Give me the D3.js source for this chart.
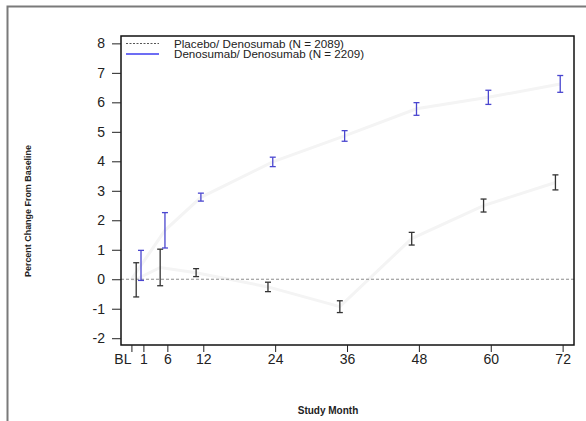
<!DOCTYPE html>
<html>
<head>
<meta charset="utf-8">
<script src="https://cdn.jsdelivr.net/npm/d3@7"></script>
<style>
  body { margin: 0; background: #fff; }
  svg { display: block; font-family: "Liberation Sans", Arial, sans-serif; }
</style>
</head>
<body>
<div id="chart"></div>
<script>
// visits: axis position of each visit (month 1 sits at position 2 on the original axis)
var visitAt = [2, 6, 12, 24, 36, 48, 60, 72];
var xTickAt = [0, 2, 6, 12, 24, 36, 48, 60, 72];
var xTickLabels = ['BL', '1', '6', '12', '24', '36', '48', '60', '72'];
var yTicks = [-2, -1, 0, 1, 2, 3, 4, 5, 6, 7, 8];

var placeboMean = [0, 0.4, 0.22, -0.26, -0.93, 1.38, 2.5, 3.28];
var placeboLo = [-0.6, -0.22, 0.09, -0.42, -1.13, 1.16, 2.28, 3.03];
var placeboHi = [0.56, 1.02, 0.36, -0.1, -0.73, 1.59, 2.72, 3.54];

var denoMean = [0.47, 1.66, 2.78, 3.98, 4.86, 5.78, 6.17, 6.62];
var denoLo = [-0.04, 1.06, 2.65, 3.82, 4.68, 5.56, 5.93, 6.34];
var denoHi = [0.98, 2.26, 2.92, 4.14, 5.04, 5.99, 6.41, 6.91];

var seriesNames = ['Placebo/ Denosumab (N = 2089)', 'Denosumab/ Denosumab (N = 2209)'];

var W = 586, H = 421;
var frame = { left: 121, right: 574, top: 36, bottom: 345 };

var svg = d3.select('#chart').append('svg')
  .attr('width', W).attr('height', H);

// outer grey border (runs off the right / bottom edges)
svg.append('rect')
  .attr('x', 7.5).attr('y', 6.5)
  .attr('width', 620).attr('height', 440)
  .attr('fill', 'none').attr('stroke', '#7a7a7a').attr('stroke-width', 2);

var x = d3.scaleLinear().domain([-1.74, 73.9]).range([frame.left, frame.right]);
var y = d3.scaleLinear().domain([-2.23, 8.25]).range([frame.bottom, frame.top]);

var series = [
  { mean: placeboMean, lo: placeboLo, hi: placeboHi, shift: -1.2, color: '#333' },
  { mean: denoMean, lo: denoLo, hi: denoHi, shift: -0.4, color: '#4a46cf' }
];

// very faint connecting lines from baseline through the means
var line = d3.line().x(function (d) { return x(d[0]); }).y(function (d) { return y(d[1]); });
series.forEach(function (s) {
  var pts = [[0, 0]].concat(visitAt.map(function (v, i) { return [v + s.shift, s.mean[i]]; }));
  svg.append('path')
    .attr('d', line(pts))
    .attr('fill', 'none')
    .attr('stroke', '#f4f4f4')
    .attr('stroke-width', 3);
});

// zero reference line
svg.append('line')
  .attr('x1', frame.left).attr('x2', frame.right)
  .attr('y1', y(0)).attr('y2', y(0))
  .attr('stroke', '#8c8c8c').attr('stroke-width', 1)
  .attr('stroke-dasharray', '3,2');

// error bars
series.forEach(function (s) {
  var g = svg.append('g').attr('stroke', s.color).attr('stroke-width', 1.3);
  visitAt.forEach(function (v, i) {
    var cx = x(v + s.shift);
    g.append('line').attr('x1', cx).attr('x2', cx).attr('y1', y(s.lo[i])).attr('y2', y(s.hi[i]));
    g.append('line').attr('x1', cx - 3).attr('x2', cx + 3).attr('y1', y(s.lo[i])).attr('y2', y(s.lo[i]));
    g.append('line').attr('x1', cx - 3).attr('x2', cx + 3).attr('y1', y(s.hi[i])).attr('y2', y(s.hi[i]));
  });
});

// frame
svg.append('rect')
  .attr('x', frame.left).attr('y', frame.top)
  .attr('width', frame.right - frame.left).attr('height', frame.bottom - frame.top)
  .attr('fill', 'none').attr('stroke', '#111').attr('stroke-width', 1.5);

// y axis
var yAxis = svg.append('g')
  .attr('transform', 'translate(' + (frame.left - 9) + ',0)')
  .call(d3.axisLeft(y).tickValues(yTicks).tickSize(-9).tickPadding(7)
    .tickFormat(function (d) { return String(d); }));
yAxis.select('.domain').remove();
yAxis.selectAll('line').attr('stroke', '#222');
yAxis.selectAll('text').attr('font-size', 14).attr('fill', '#222')
  .attr('font-family', '"Liberation Sans", Arial, sans-serif');

// x axis
var xAxis = svg.append('g')
  .attr('transform', 'translate(0,' + frame.bottom + ')')
  .call(d3.axisBottom(x).tickValues(xTickAt).tickSize(7).tickPadding(2)
    .tickFormat(function (d, i) { return xTickLabels[i]; }));
xAxis.select('.domain').remove();
xAxis.selectAll('line').attr('stroke', '#222');
xAxis.selectAll('text').attr('font-size', 14).attr('fill', '#222')
  .attr('font-family', '"Liberation Sans", Arial, sans-serif')
  .attr('dx', function (d, i) { return i === 0 ? -9 : 0; });

// axis titles
svg.append('text')
  .attr('transform', 'translate(31,211) rotate(-90)')
  .attr('text-anchor', 'middle')
  .attr('font-size', 9).attr('font-weight', 'bold').attr('fill', '#222')
  .attr('textLength', 132).attr('lengthAdjust', 'spacingAndGlyphs')
  .text('Percent Change From Baseline');
svg.append('text')
  .attr('x', 328).attr('y', 414)
  .attr('text-anchor', 'middle')
  .attr('font-size', 10).attr('font-weight', 'bold').attr('fill', '#222')
  .text('Study Month');

// legend
var legend = svg.append('g');
legend.append('line')
  .attr('x1', 126).attr('x2', 159).attr('y1', 43.5).attr('y2', 43.5)
  .attr('stroke', '#555').attr('stroke-width', 1).attr('stroke-dasharray', '2,1.5');
legend.append('line')
  .attr('x1', 126).attr('x2', 159).attr('y1', 54).attr('y2', 54)
  .attr('stroke', '#3c3cf0').attr('stroke-width', 1.3);
legend.append('text')
  .attr('x', 174).attr('y', 47.5)
  .attr('font-size', 11.5).attr('fill', '#222')
  .attr('textLength', 170).attr('lengthAdjust', 'spacingAndGlyphs')
  .text(seriesNames[0]);
legend.append('text')
  .attr('x', 174).attr('y', 58)
  .attr('font-size', 11.5).attr('fill', '#222')
  .attr('textLength', 190).attr('lengthAdjust', 'spacingAndGlyphs')
  .text(seriesNames[1]);
</script>
</body>
</html>
